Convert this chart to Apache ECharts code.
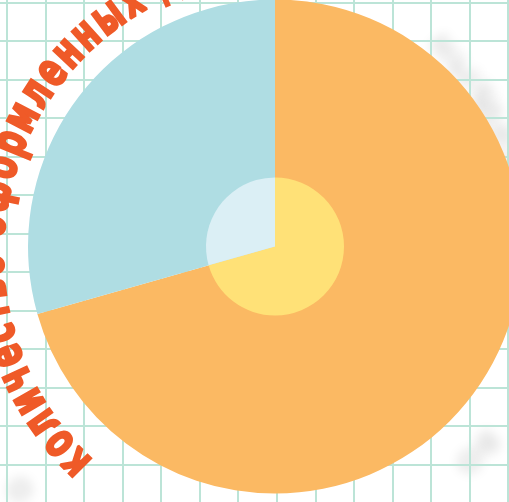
<!DOCTYPE html>
<html><head><meta charset="utf-8">
<script src="https://cdn.jsdelivr.net/npm/echarts@6/dist/echarts.min.js"></script>
<style>html,body{margin:0;padding:0;background:#fff}#c{width:509px;height:502px}</style>
</head><body><div id="c"></div>
<script>
const categories = ['Оформлено', 'Не оформлено'];
const outerValues = [70.6, 29.4];
const innerValues = [70.6, 29.4];
const outerColors = ['#FBB963', '#AFDDE3'];
const innerColors = ['#FFE177', '#DBEFF5'];
const arcTitle = 'количество оформленных договоров';

const FSIZE = 44, SX = 0.72, SY = 1.08;
const FONT = 'bold ' + FSIZE + 'px "DejaVu Sans", sans-serif';
const TC = [283.6, 254];
const TR = 293;
const arcR = 290;
const startDeg = 225.1, refDeg = 126.5;
const ctx = document.createElement('canvas').getContext('2d');
ctx.font = FONT;
const chars = Array.from(arcTitle);
const w = chars.map(c => ctx.measureText(c).width * SX);
const target = (startDeg - refDeg) * Math.PI / 180 * arcR;
let base = 0;
for (let j = 0; j < 20; j++) base += w[j];
base += (w[20] - w[0]) / 2;
const ls = (target - base) / 20;
let s = 0;
const graphics = [];
chars.forEach((c, i) => {
  const center = s + w[i] / 2;
  s += w[i] + ls;
  const ang = startDeg * Math.PI / 180 - (center - w[0] / 2) / arcR;
  graphics.push({
    type: 'text', silent: true, z: 100,
    x: TC[0] + TR * Math.cos(ang),
    y: TC[1] - TR * Math.sin(ang),
    rotation: ang - Math.PI / 2,
    scaleX: SX, scaleY: SY,
    style: { text: c, font: FONT, fill: '#EF5A28', stroke: '#EF5A28', lineWidth: 2.5,
      align: 'center', verticalAlign: 'middle' }
  });
});

// faint blurred background glyphs (shadow only)
const blobs = [
  { t: 'ных', x: 462, y: 70, r: -0.85 },
  { t: 'дел', x: 500, y: 135, r: -1.15 },
  { t: 'во', x: 478, y: 452, r: -2.35 },
  { t: 'о', x: 20, y: 490, r: 0.5 }
];
blobs.forEach(b => {
  graphics.push({
    type: 'text', silent: true, z: -10,
    x: b.x + 2000, y: b.y, rotation: b.r,
    style: {
      text: b.t, font: 'bold 38px "DejaVu Sans", sans-serif', fill: '#000',
      align: 'center', verticalAlign: 'middle',
      textShadowColor: 'rgba(0,0,0,0.13)', textShadowBlur: 12, textShadowOffsetX: -2000, textShadowOffsetY: 0
    }
  });
});

const chart = echarts.init(document.getElementById('c'));
const axisOpt = {
  type: 'value', min: 0, max: 15, interval: 1,
  axisLine: { show: false }, axisTick: { show: false }, axisLabel: { show: false },
  splitLine: { show: true, lineStyle: { color: '#BCE4D7', width: 2 } }
};
chart.setOption({
  animation: false,
  backgroundColor: '#ffffff',
  grid: { left: -31.9, top: -35.8, width: 578.7, height: 577.5, show: false, outerBoundsMode: 'none', containLabel: false },
  xAxis: axisOpt,
  yAxis: axisOpt,
  series: [
    {
      type: 'pie', center: [275, 246.5], radius: [0, 247], startAngle: 90, clockwise: true,
      silent: true, label: { show: false }, labelLine: { show: false },
      data: categories.map((n, i) => ({ name: n, value: outerValues[i], itemStyle: { color: outerColors[i] } }))
    },
    {
      type: 'pie', center: [275, 246.5], radius: [0, 69], startAngle: 90, clockwise: true,
      silent: true, label: { show: false }, labelLine: { show: false },
      data: categories.map((n, i) => ({ name: n, value: innerValues[i], itemStyle: { color: innerColors[i] } }))
    }
  ],
  graphic: graphics
});
</script></body></html>
